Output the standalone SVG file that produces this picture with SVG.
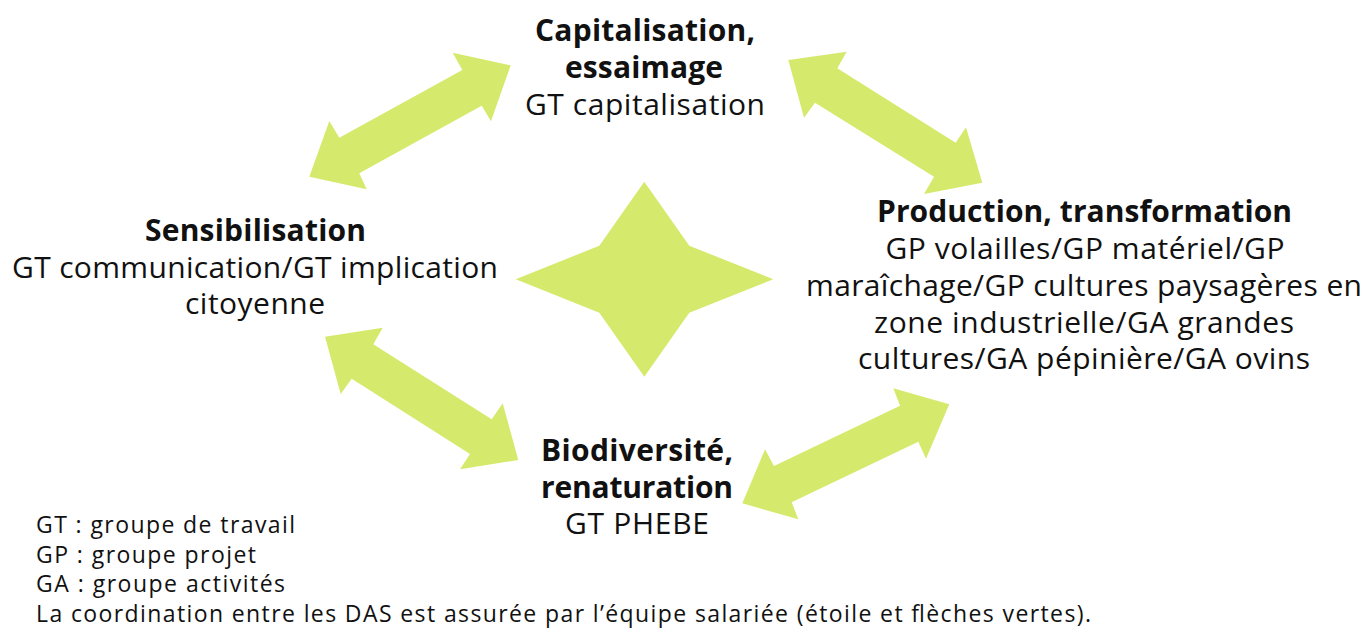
<svg xmlns="http://www.w3.org/2000/svg" width="1367" height="628" viewBox="0 0 1367 628">
<style>
.arr{fill:#d5ea6d}
text{font-family:"Open Sans","Noto Sans",sans-serif;fill:#111;text-anchor:middle;font-size:30px}
.b{font-weight:bold}
.leg{font-size:23px;text-anchor:start}
</style>
<rect width="1367" height="628" fill="#fff"/>
<g id="connectors">
<polygon class="arr" points="309.3,176.7 329.3,121 339.3,137.7 462.3,70 452.7,52.7 510.7,65.3 491,121.3 481.7,105.7 359.3,173.3 366.7,189.3"/>
<polygon class="arr" points="788.3,60 846.7,51.7 837.3,68.3 955.7,142.7 966,127.3 982.3,182.7 924,194 934,176.7 815,102.7 804,117.7"/>
<polygon class="arr" points="325,336.7 382.7,327.7 373.3,344.3 491.7,419.3 502.7,403.3 518.3,460 460,469.3 470,454 351.7,378.7 340.7,394"/>
<polygon class="arr" points="949.3,404.3 893.3,388.3 900,405.7 774,466 765,449.3 742.3,503.3 798.3,519.3 791.7,502.3 918.3,441.7 926,458.7"/>
</g>
<g id="star">
<polygon class="arr" points="644.3,181.7 689.3,245.7 773.3,279.3 689.3,312.7 644.3,376.7 599.3,312.7 515.7,279.3 599.3,245.7"/>
</g>
<g id="capitalisation">
<text class="b" x="645" y="41" textLength="220" lengthAdjust="spacing">Capitalisation,</text>
<text class="b" x="644" y="78" textLength="158" lengthAdjust="spacing">essaimage</text>
<text x="645" y="115" textLength="240" lengthAdjust="spacing">GT capitalisation</text>
</g>
<g id="production">
<text class="b" x="1084.5" y="222" textLength="415" lengthAdjust="spacing">Production, transformation</text>
<text x="1085" y="259" textLength="399" lengthAdjust="spacing">GP volailles/GP matériel/GP</text>
<text x="1084" y="296" textLength="556" lengthAdjust="spacing">maraîchage/GP cultures paysagères en</text>
<text x="1084" y="333" textLength="420" lengthAdjust="spacing">zone industrielle/GA grandes</text>
<text x="1084" y="369" textLength="452" lengthAdjust="spacing">cultures/GA pépinière/GA ovins</text>
</g>
<g id="sensibilisation">
<text class="b" x="255.5" y="241" textLength="221" lengthAdjust="spacing">Sensibilisation</text>
<text x="255" y="278" textLength="486" lengthAdjust="spacing">GT communication/GT implication</text>
<text x="255" y="314" textLength="140" lengthAdjust="spacing">citoyenne</text>
</g>
<g id="biodiversite">
<text class="b" x="637" y="461" textLength="192" lengthAdjust="spacing">Biodiversité,</text>
<text class="b" x="637" y="498" textLength="192" lengthAdjust="spacing">renaturation</text>
<text x="637" y="534" textLength="144" lengthAdjust="spacing">GT PHEBE</text>
</g>
<g id="legend">
<text class="leg" x="36" y="533" textLength="259" lengthAdjust="spacing">GT : groupe de travail</text>
<text class="leg" x="36" y="563" textLength="220" lengthAdjust="spacing">GP : groupe projet</text>
<text class="leg" x="36" y="592" textLength="249" lengthAdjust="spacing">GA : groupe activités</text>
<text class="leg" x="36" y="622" textLength="1055" lengthAdjust="spacing">La coordination entre les DAS est assurée par l’équipe salariée (étoile et flèches vertes).</text>
</g>
</svg>
